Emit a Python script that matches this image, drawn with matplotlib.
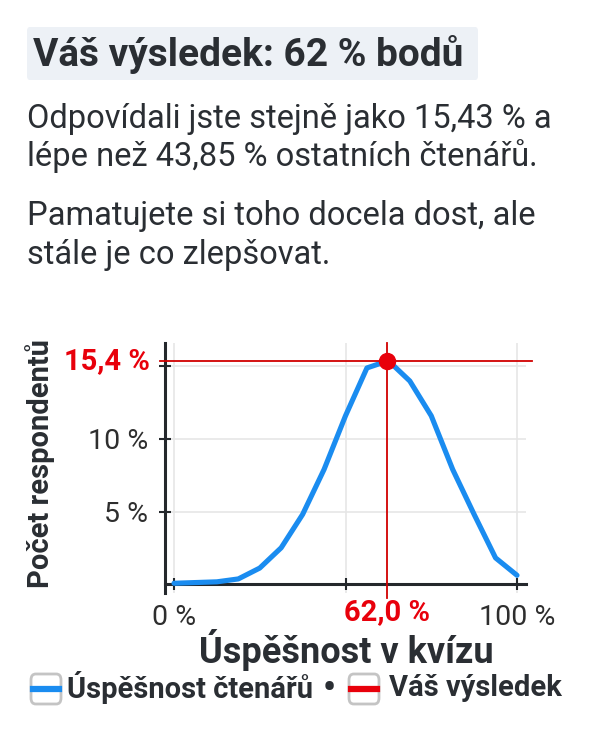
import matplotlib.pyplot as plt
from matplotlib.patches import FancyBboxPatch
from matplotlib.lines import Line2D

# data
score_pct = [0, 6.25, 12.5, 18.75, 25, 31.25, 37.5, 43.75, 50,
             56.25, 62.5, 68.75, 75, 81.25, 87.5, 93.75, 100]
share_pct = [0.05, 0.1, 0.15, 0.35, 1.1, 2.5, 4.8, 7.9, 11.6,
             14.9, 15.4, 14.0, 11.6, 7.9, 4.8, 1.8, 0.6]
your_score = 62.0
your_share = 15.4
ytick_vals = [5, 10]
ytick_labels = ["5 %", "10 %"]
xtick_vals = [0, 50, 100]
xtick_labels = ["0 %", "", "100 %"]

W, H = 592, 750
BLUE = "#1a8cf0"
RED = "#e8000b"
DARK = "#2a2e33"
FONT = "Roboto"

fig = plt.figure(figsize=(W / 100, H / 100), dpi=100)


def fx(x):
    return x / W


def fy(y):
    return 1 - y / H


# header
fig.patches.append(FancyBboxPatch((fx(27), fy(80)), fx(451), 53 / H,
                                  boxstyle="round,pad=0,rounding_size=0.005",
                                  transform=fig.transFigure, fc="#edf1f6", ec="none"))
fig.text(fx(33), fy(54), "Váš výsledek: 62 % bodů", fontsize=28, fontweight="bold",
         family=FONT, color=DARK, va="center", ha="left")

body = ["Odpovídali jste stejně jako 15,43 % a",
        "lépe než 43,85 % ostatních čtenářů.",
        "Pamatujete si toho docela dost, ale",
        "stále je co zlepšovat."]
for txt, y in zip(body, [119, 156, 216, 255]):
    fig.text(fx(27), fy(y), txt, fontsize=23.5, family=FONT, color=DARK,
             va="center", ha="left")

# chart
x0, x1 = -2.5, 102.5
y0, y1 = -0.6, 16.6
left_px = 174 + x0 * 3.43
right_px = 174 + x1 * 3.43
bot_px = 584 - y0 * 14.5
top_px = 584 - y1 * 14.5
ax = fig.add_axes([fx(left_px), fy(bot_px), (right_px - left_px) / W, (bot_px - top_px) / H])
ax.set_xlim(x0, x1)
ax.set_ylim(y0, y1)

for s in ["top", "right"]:
    ax.spines[s].set_visible(False)
ax.spines["bottom"].set_position(("data", 0))
for s in ["left", "bottom"]:
    ax.spines[s].set_linewidth(2.2)
    ax.spines[s].set_color("#24282c")

ax.set_yticks(ytick_vals + [15])
ax.set_yticklabels(ytick_labels + [""])
ax.set_xticks(xtick_vals)
ax.set_xticklabels(xtick_labels)
ax.tick_params(axis="both", direction="inout", length=9, width=1.5, color="#24282c",
               labelsize=20.5, labelcolor="#2e2e2e")
ax.tick_params(axis="x", pad=10)
ax.tick_params(axis="y", pad=8)
for lab in ax.get_xticklabels() + ax.get_yticklabels():
    lab.set_family(FONT)
ax.grid(True, color="#e6e6e6", linewidth=1.2)
ax.set_axisbelow(True)

ax.plot(score_pct, share_pct, color=BLUE, linewidth=3.7, solid_capstyle="round",
        solid_joinstyle="round", zorder=3)

ax.axvline(your_score, ymin=-0.02, ymax=1.0, color="#d10000", linewidth=1.3, clip_on=False, zorder=4)
ax.plot([-4.2, 104.5], [your_share, your_share], color="#d10000", linewidth=1.3,
        clip_on=False, zorder=4)
ax.plot([your_score], [your_share], "o", color=RED, markersize=11.5, zorder=5, clip_on=False)

ax.text(-7.0, your_share, "15,4 %", color=RED, fontsize=21, fontweight="bold",
        family=FONT, ha="right", va="center")
ax.text(your_score, -1.95, "62,0 %", color=RED, fontsize=21, fontweight="bold",
        family=FONT, ha="center", va="center")

ax.set_ylabel("Počet respondentů", fontsize=21, fontweight="bold", family=FONT,
              color=DARK, labelpad=4)
ax.yaxis.set_label_coords((40 - left_px) / (right_px - left_px), 0.516)
ax.yaxis.label.set_va("center")
ax.set_xlabel("Úspěšnost v kvízu", fontsize=26, fontweight="bold", family=FONT,
              color=DARK)
ax.xaxis.set_label_coords((346 - left_px) / (right_px - left_px), (bot_px - 650) / (bot_px - top_px))
ax.xaxis.label.set_va("center")

# legend
def legend_box(xp, color):
    fig.patches.append(FancyBboxPatch((fx(xp), fy(704)), 30 / W, 30 / H,
                                      boxstyle="round,pad=0,rounding_size=0.008",
                                      transform=fig.transFigure, fc="white",
                                      ec="#c4c4c4", lw=2))
    fig.lines.append(Line2D([fx(xp + 2), fx(xp + 28)], [fy(689), fy(689)],
                            transform=fig.transFigure, color=color, lw=4.5))


legend_box(31, BLUE)
fig.text(fx(67), fy(688), "Úspěšnost čtenářů", fontsize=21, fontweight="bold",
         family=FONT, color=DARK, va="center", ha="left")
fig.text(fx(329), fy(689), "•", fontsize=26, fontweight="bold",
         family=FONT, color=DARK, va="center", ha="center")
legend_box(349, RED)
fig.text(fx(389), fy(688), "Váš výsledek", fontsize=21, fontweight="bold",
         family=FONT, color=DARK, va="center", ha="left")

fig.savefig("out.png", dpi=100)
